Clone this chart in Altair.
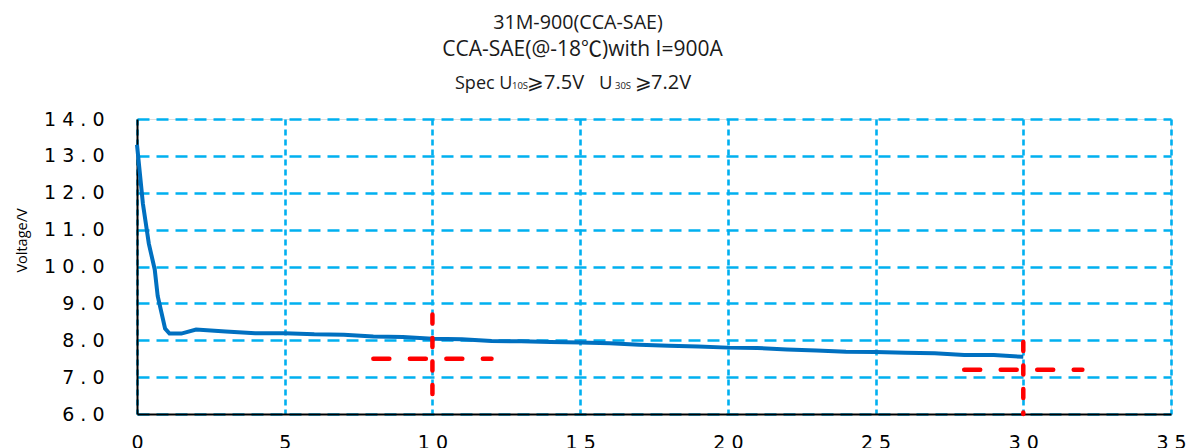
import altair as alt
import pandas as pd

# ---- data ----
time_s = [0, 0.2, 0.4, 0.6, 0.7, 0.95, 1.1, 1.5, 2, 3, 4, 5, 6, 7, 8, 9, 10, 11, 12, 13,
          14, 15, 16, 17, 18, 19, 20, 21, 22, 23, 24, 25, 26, 27, 28, 29, 30]
voltage = [13.3, 11.7, 10.62, 9.92, 9.2, 8.32, 8.18, 8.18, 8.29, 8.24, 8.19, 8.19, 8.16, 8.15,
           8.10, 8.09, 8.04, 8.03, 7.98, 7.97, 7.95, 7.94, 7.92, 7.88, 7.85, 7.83, 7.80, 7.79,
           7.75, 7.72, 7.69, 7.68, 7.66, 7.65, 7.60, 7.60, 7.55]

spec_time = [10, 30]
spec_voltage = [7.5, 7.2]
spec_time_lo = [8, 28]
spec_time_hi = [12, 32]
spec_volt_lo = [6.5, 6.0]
spec_volt_hi = [8.7, 7.95]

x_ticks = [0, 5, 10, 15, 20, 25, 30, 35]
y_ticks = [6, 7, 8, 9, 10, 11, 12, 13, 14]

title_line1 = "31M-900(CCA-SAE)"
title_line2 = "CCA-SAE(@-18℃)with I=900A"
spec_parts = ["Spec U", "10S", "⩾", "7.5V", "U", "30S", "⩾", "7.2V"]

# ---- layout / style (pixels relative to plot origin) ----
W, H = 1034, 295
spec_part_x = [318, 375, 390, 407, 462, 478, 498, 514]
spec_part_size = [18, 9.5, 20, 20, 18.5, 9.5, 20, 20]
spec_part_font = ["Open Sans", "Open Sans", "DejaVu Sans", "Open Sans",
                  "Open Sans", "Open Sans", "DejaVu Sans", "Open Sans"]

curve_df = pd.DataFrame({"t": time_s, "v": voltage})
spec_df = pd.DataFrame({"t": spec_time, "v": spec_voltage, "tlo": spec_time_lo,
                        "thi": spec_time_hi, "vlo": spec_volt_lo, "vhi": spec_volt_hi})

xs = alt.Scale(domain=[0, 35], nice=False, zero=False)
ys = alt.Scale(domain=[6, 14], nice=False, zero=False)

grid_blue = "#00b0f0"

x_axis = alt.Axis(values=x_ticks, title=None, grid=True, gridColor=grid_blue,
                  gridDash=[6, 4], gridWidth=2.6, gridOpacity=1,
                  domainColor="black", domainWidth=2, ticks=False,
                  labelFont="DejaVu Sans", labelFontSize=19, labelColor="black",
                  labelPadding=19, labelOverlap=False, labelFlush=False,
                  labelExpr="join(split(format(datum.value, 'd'), ''), ' ')")
y_axis = alt.Axis(values=y_ticks, title="Voltage/V", grid=True, gridColor=grid_blue,
                  gridDash=[12, 7], gridWidth=2.6, gridOpacity=1,
                  domainColor="black", domainWidth=2, ticks=False,
                  labelFont="DejaVu Sans", labelFontSize=19, labelColor="black",
                  labelPadding=33, labelBaseline="middle", labelOverlap=False,
                  labelFlush=False,
                  labelExpr="join(split(format(datum.value, '.1f'), ''), ' ')",
                  titleFont="Open Sans", titleFontSize=14.5, titleFontWeight="normal",
                  titleColor="black", titleX=-115, titleY=121, titleAngle=-90,
                  titleAlign="center", titleBaseline="middle")

line = alt.Chart(curve_df).mark_line(color="#0070c0", strokeWidth=4).encode(
    x=alt.X("t:Q", scale=xs, axis=x_axis),
    y=alt.Y("v:Q", scale=ys, axis=y_axis),
)

red_h = alt.Chart(spec_df).mark_rule(color="#ff0000", strokeWidth=4.5,
                                     strokeDash=[16, 20.5], strokeCap="round").encode(
    x=alt.X("tlo:Q", scale=xs, axis=x_axis), x2="thi:Q",
    y=alt.Y("v:Q", scale=ys, axis=y_axis))
red_v = alt.Chart(spec_df).mark_rule(color="#ff0000", strokeWidth=4.5,
                                     strokeDash=[9, 14.5], strokeCap="round").encode(
    x=alt.X("t:Q", scale=xs, axis=x_axis),
    y=alt.Y("vhi:Q", scale=ys, axis=y_axis), y2="vlo:Q")

layers = [line, red_h, red_v]

def text_layer(txt, x, y, size, font, align):
    return alt.Chart(pd.DataFrame({"label": [txt]})).mark_text(
        font=font, fontSize=size, color="#1a1a1a", align=align, baseline="alphabetic"
    ).encode(x=alt.value(x), y=alt.value(y), text="label:N")

layers.append(text_layer(title_line1, 441, -90.3, 19.7, "Open Sans", "center"))
layers.append(text_layer(title_line2, 445.5, -62.7, 21, "Open Sans, Noto Sans CJK SC", "center"))
for txt, px, fs, fnt in zip(spec_parts, spec_part_x, spec_part_size, spec_part_font):
    layers.append(text_layer(txt, px, -30, fs, fnt + ", Noto Sans CJK SC", "left"))

chart = alt.layer(*layers).properties(
    width=W, height=H,
    autosize=alt.AutoSizeParams(type="none"),
    padding={"left": 129, "top": 111, "right": 15, "bottom": 34},
).configure_view(stroke=None).configure(background="white")

chart.save("out.html", embed_options={"renderer": "svg", "actions": False})
